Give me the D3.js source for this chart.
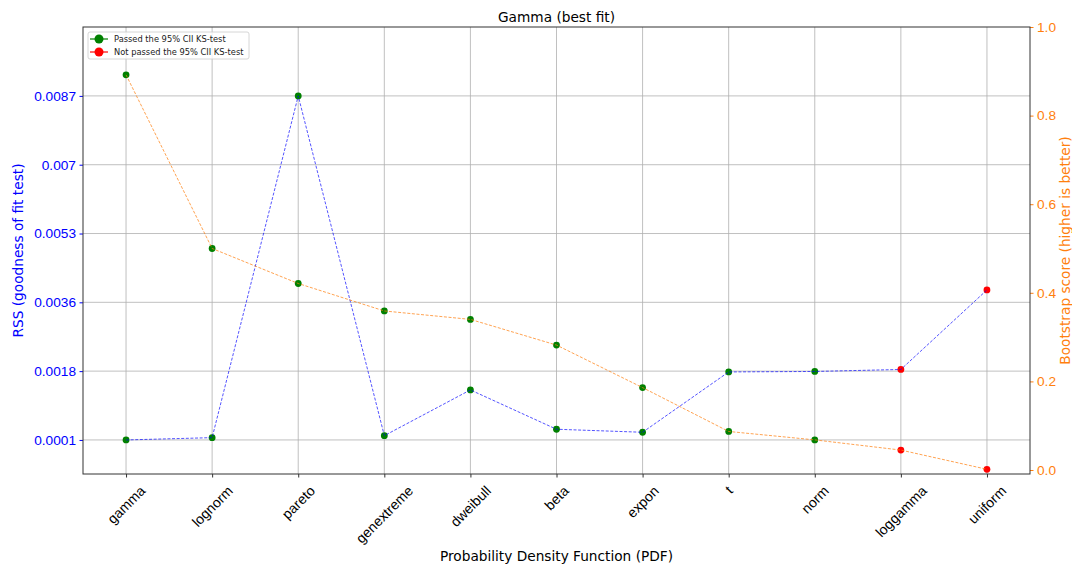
<!DOCTYPE html>
<html>
<head>
<meta charset="utf-8">
<script src="https://cdn.jsdelivr.net/npm/d3@7"></script>
<style>
  body { margin: 0; background: #fff; }
  svg { font-family: "DejaVu Sans", sans-serif; }
</style>
</head>
<body>
<svg id="drawspace" width="1072" height="565"></svg>
<script>
let drawSpace = d3.select("#drawspace");

// distributions, in the order shown
let dists = ["gamma", "lognorm", "pareto", "genextreme", "dweibull", "beta",
  "expon", "t", "norm", "loggamma", "uniform"];
// residual sum of squares (left axis)
let rss = [0.0001, 0.000158, 0.00874, 0.000208, 0.001356, 0.000369,
  0.000293, 0.001808, 0.00182, 0.00187, 0.003867];
// bootstrap score (right axis)
let bootstrap = [0.892, 0.500, 0.421, 0.359, 0.340, 0.282,
  0.186, 0.087, 0.068, 0.045, 0.0016];
// passed the KS-test
let passed = [true, true, true, true, true, true, true, true, true, false, false];

let rssTicks = [0.0001, 0.001828, 0.003556, 0.005284, 0.007012, 0.00874];
let rssTickLabels = ["0.0001", "0.0018", "0.0036", "0.0053", "0.007", "0.0087"];
let bootTicks = [0, 0.2, 0.4, 0.6, 0.8, 1.0];

let plotL = 83, plotR = 1030, plotT = 27, plotB = 474;
let blue = "#0000ff", orange = "#ff7f0e";
let fs = 13.7;

let x = d3.scalePoint().domain(dists).range([plotL, plotR]).padding(0.5);
let yL = d3.scaleLinear().domain([-0.000755, 0.01047]).range([plotB, plotT]);
let yR = d3.scaleLinear().domain([-0.009, 1.0]).range([plotB, plotT]);

// grid
let grid = drawSpace.append("g");
grid.selectAll(".gx").data(dists).enter().append("line")
  .attr("x1", d => x(d)).attr("x2", d => x(d))
  .attr("y1", plotT).attr("y2", plotB)
  .attr("stroke", "#b0b0b0").attr("stroke-width", 0.8);
grid.selectAll(".gy").data(rssTicks).enter().append("line")
  .attr("x1", plotL).attr("x2", plotR)
  .attr("y1", d => yL(d)).attr("y2", d => yL(d))
  .attr("stroke", "#b0b0b0").attr("stroke-width", 0.8);

// axes
let xAxis = drawSpace.append("g")
  .attr("transform", "translate(0," + plotB + ")")
  .call(d3.axisBottom(x).tickSize(3.5).tickPadding(3));
xAxis.select(".domain").remove();
xAxis.selectAll(".tick line").attr("stroke", "#333");
// rotated labels: bounding box centred on the tick, top just under it
xAxis.selectAll("text")
  .attr("font-size", 14).attr("fill", "#000")
  .attr("text-anchor", "middle").attr("dy", "0.42em")
  .attr("x", 0).attr("y", 0)
  .attr("transform", function () {
    let w = this.getComputedTextLength();
    let h = 14 * 1.15;
    let off = 8 + (w + h) * Math.SQRT1_2 / 2;
    return "translate(-1," + off + ") rotate(-45)";
  });

let yAxisL = drawSpace.append("g")
  .attr("transform", "translate(" + plotL + ",0)")
  .call(d3.axisLeft(yL).tickValues(rssTicks)
    .tickFormat((d, i) => rssTickLabels[i]).tickSize(3.5).tickPadding(3.5));
yAxisL.select(".domain").remove();
yAxisL.selectAll("text").attr("font-size", fs).attr("fill", blue);
yAxisL.selectAll(".tick line").attr("stroke", blue);

let yAxisR = drawSpace.append("g")
  .attr("transform", "translate(" + plotR + ",0)")
  .call(d3.axisRight(yR).tickValues(bootTicks)
    .tickFormat(d3.format(".1f")).tickSize(3.5).tickPadding(3.5));
yAxisR.select(".domain").remove();
yAxisR.selectAll("text").attr("font-size", fs).attr("fill", orange);
yAxisR.selectAll(".tick line").attr("stroke", orange);

// frame
drawSpace.append("rect")
  .attr("x", plotL).attr("y", plotT)
  .attr("width", plotR - plotL).attr("height", plotB - plotT)
  .attr("fill", "none").attr("stroke", "#333").attr("stroke-width", 1);

// markers and lines
let markColor = (i) => passed[i] ? "green" : "red";

drawSpace.append("g").selectAll("circle").data(dists).enter().append("circle")
  .attr("cx", d => x(d)).attr("cy", (d, i) => yL(rss[i]))
  .attr("r", 3.4).attr("fill", (d, i) => markColor(i));

drawSpace.append("path")
  .datum(dists)
  .attr("d", d3.line().x(d => x(d)).y((d, i) => yL(rss[i])))
  .attr("fill", "none").attr("stroke", blue).attr("stroke-width", 0.9)
  .attr("stroke-opacity", 0.75).attr("stroke-dasharray", "3,1.6");

drawSpace.append("g").selectAll("circle").data(dists).enter().append("circle")
  .attr("cx", d => x(d)).attr("cy", (d, i) => yR(bootstrap[i]))
  .attr("r", 3.4).attr("fill", (d, i) => markColor(i));

drawSpace.append("path")
  .datum(dists)
  .attr("d", d3.line().x(d => x(d)).y((d, i) => yR(bootstrap[i])))
  .attr("fill", "none").attr("stroke", orange).attr("stroke-width", 0.9)
  .attr("stroke-opacity", 0.8).attr("stroke-dasharray", "3,1.6");

// titles
drawSpace.append("text")
  .attr("x", (plotL + plotR) / 2).attr("y", 22)
  .attr("text-anchor", "middle").attr("font-size", fs)
  .text("Gamma (best fit)");

drawSpace.append("text")
  .attr("x", (plotL + plotR) / 2).attr("y", 561)
  .attr("text-anchor", "middle").attr("font-size", fs)
  .text("Probability Density Function (PDF)");

drawSpace.append("text")
  .attr("transform", "translate(23," + (plotT + plotB) / 2 + ") rotate(-90)")
  .attr("text-anchor", "middle").attr("font-size", fs).attr("fill", blue)
  .text("RSS (goodness of fit test)");

drawSpace.append("text")
  .attr("transform", "translate(1070," + (plotT + plotB) / 2 + ") rotate(-90)")
  .attr("text-anchor", "middle").attr("font-size", fs).attr("fill", orange)
  .text("Bootstrap score (higher is better)");

// legend
let legendItems = [
  { label: "Passed the 95% CII KS-test", color: "green" },
  { label: "Not passed the 95% CII KS-test", color: "red" }
];
let legend = drawSpace.append("g").attr("transform", "translate(88,32)");
legend.append("rect")
  .attr("width", 161).attr("height", 27).attr("rx", 2)
  .attr("fill", "white").attr("fill-opacity", 0.8)
  .attr("stroke", "#ccc").attr("stroke-width", 0.8);
let entries = legend.selectAll(".entry").data(legendItems).enter().append("g")
  .attr("transform", (d, i) => "translate(0," + (7 + i * 13) + ")");
entries.append("line")
  .attr("x1", 2).attr("x2", 20).attr("y1", 0).attr("y2", 0)
  .attr("stroke", d => d.color).attr("stroke-width", 1.2);
entries.append("circle")
  .attr("cx", 11).attr("cy", 0).attr("r", 4.5).attr("fill", d => d.color);
entries.append("text")
  .attr("x", 26).attr("y", 0).attr("dy", "0.35em")
  .attr("font-size", 8.3).attr("fill", "#222")
  .text(d => d.label);
</script>
</body>
</html>
